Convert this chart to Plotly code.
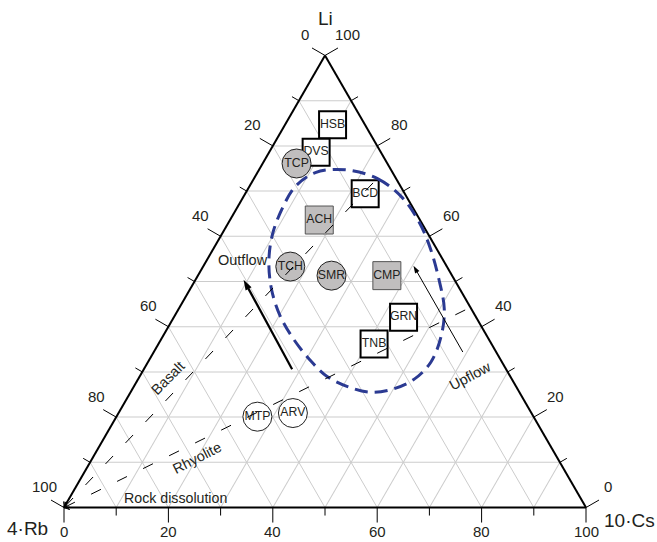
import plotly.graph_objects as go

# ---------------- data (percent of Li, 10·Cs, 4·Rb) ----------------
tick_vals = [0, 10, 20, 30, 40, 50, 60, 70, 80, 90, 100]
left_tick_text = ['100', '', '80', '', '60', '', '40', '', '20', '', '0']     # 4·Rb along left edge (at Li = tick)
bottom_tick_text = ['0', '', '20', '', '40', '', '60', '', '80', '', '100']   # 10·Cs along bottom edge (at Cs = tick)
right_tick_text = ['0', '', '20', '', '40', '', '60', '', '80', '', '100']    # Li along right edge (at Li = tick)

wsq_names = ['HSB', 'DVS', 'BCD', 'GRN', 'TNB']
wsq_li = [84.7, 78.6, 69.4, 42.1, 36.2]
wsq_cs = [9.1, 9.0, 23.0, 44.0, 41.3]
wsq_rb = [6.2, 12.4, 7.6, 13.9, 22.5]

gsq_names = ['ACH', 'CMP']
gsq_li = [63.6, 51.3]
gsq_cs = [17.1, 36.2]
gsq_rb = [19.3, 12.5]

gci_names = ['TCP', 'TCH', 'SMR']
gci_li = [76.1, 53.3, 51.3]
gci_cs = [6.5, 16.7, 25.6]
gci_rb = [17.4, 30.0, 23.1]

wci_names = ['MTP', 'ARV']
wci_li = [20.1, 20.9]
wci_cs = [27.0, 33.4]
wci_rb = [52.9, 45.7]

# dashed field outline (read around the curve)
field_li = [74.7, 72.7, 68.5, 63.2, 57.6, 50.6, 43.9, 37.9, 32.2, 28.4, 26.2, 25.5,
            26.8, 29.0, 32.4, 37.3, 42.4, 48.3, 54.5, 60.5, 66.5, 71.0, 74.1, 74.7]
field_cs = [16.7, 23.8, 30.6, 36.4, 41.3, 46.5, 50.9, 53.3, 54.2, 52.9, 49.9, 45.9,
            40.8, 35.9, 31.1, 25.3, 20.2, 15.6, 12.0, 9.7, 8.7, 8.8, 11.1, 16.7]
field_rb = [8.6, 3.5, 0.9, 0.4, 1.1, 2.9, 5.2, 8.8, 13.6, 18.7, 23.9, 28.6,
            32.4, 35.1, 36.5, 37.4, 37.4, 36.1, 33.5, 29.8, 24.8, 20.2, 14.8, 8.6]

# rock dissolution lines (from their far end towards the 4·Rb corner)
basalt_li = [71.8, 0]
basalt_cs = [23.3, 0]
basalt_rb = [4.9, 100]
rhyolite_li = [43.7, 0]
rhyolite_cs = [55.0, 0]
rhyolite_rb = [1.3, 100]

# process arrows (start, tip)
outflow_li = [30.6, 50.4]
outflow_cs = [28.4, 9.2]
outflow_rb = [41.0, 40.4]
upflow_li = [34.4, 53.5]
upflow_cs = [59.2, 40.2]
upflow_rb = [6.4, 6.3]

# ---------------- figure ----------------
FONT = 'Arial, Liberation Sans, sans-serif'
TXT = '#231f20'
GRAY = '#c0bebe'

W_PLOT, H_PLOT = 522, 453
TRI_W = min(W_PLOT, H_PLOT * 2 / 3 ** 0.5)
TRI_H = TRI_W * 3 ** 0.5 / 2
X0 = (W_PLOT - TRI_W) / 2 / W_PLOT
Y0 = (H_PLOT - TRI_H) / 2 / H_PLOT


def tern_paper(li, cs):
    """ternary (Li, Cs) -> paper coordinates of the ternary plot area"""
    return X0 + (cs + li / 2) / 100 * TRI_W / W_PLOT, Y0 + li / 100 * TRI_H / H_PLOT


fig = go.Figure()


def site_trace(names, li, cs, rb, symbol, fill, lcolor, lwidth, size):
    return go.Scatterternary(
        a=li, b=rb, c=cs, text=names, mode='markers+text',
        textposition='middle center',
        textfont=dict(family=FONT, size=12.3, color=TXT),
        marker=dict(symbol=symbol, size=size, color=fill,
                    line=dict(color=lcolor, width=lwidth)),
        cliponaxis=False, showlegend=False, hoverinfo='text')


fig.add_trace(site_trace(wsq_names, wsq_li, wsq_cs, wsq_rb, 'square', 'white', 'black', 2, 27))
fig.add_trace(site_trace(gsq_names, gsq_li, gsq_cs, gsq_rb, 'square', GRAY, '#555555', 1, 28))
fig.add_trace(site_trace(gci_names, gci_li, gci_cs, gci_rb, 'circle', GRAY, '#222222', 1, 29))
fig.add_trace(site_trace(wci_names, wci_li, wci_cs, wci_rb, 'circle', 'white', '#222222', 1, 29))

# field outline
fig.add_trace(go.Scatterternary(
    a=field_li, b=field_rb, c=field_cs, mode='lines',
    line=dict(color='#2b3a92', width=3, dash='13px,7px', shape='spline', smoothing=1),
    cliponaxis=False, showlegend=False, hoverinfo='skip'))

# basalt / rhyolite dissolution lines
for li, cs, rb in [(basalt_li, basalt_cs, basalt_rb), (rhyolite_li, rhyolite_cs, rhyolite_rb)]:
    fig.add_trace(go.Scatterternary(
        a=li, b=rb, c=cs, mode='lines+markers',
        line=dict(color='black', width=1, dash='11px,18px'),
        marker=dict(symbol='arrow-wide-open', size=6, angleref='previous',
                    color='black', line=dict(color='black', width=1)),
        cliponaxis=False, showlegend=False, hoverinfo='skip'))

# outflow / upflow arrows
fig.add_trace(go.Scatterternary(
    a=outflow_li, b=outflow_rb, c=outflow_cs, mode='lines+markers',
    line=dict(color='black', width=2.2),
    marker=dict(symbol='arrow', size=11, angleref='previous', color='black',
                line=dict(color='black', width=0)),
    cliponaxis=False, showlegend=False, hoverinfo='skip'))
fig.add_trace(go.Scatterternary(
    a=upflow_li, b=upflow_rb, c=upflow_cs, mode='lines+markers',
    line=dict(color='black', width=1),
    marker=dict(symbol='arrow', size=8, angleref='previous', color='black',
                line=dict(color='black', width=0)),
    cliponaxis=False, showlegend=False, hoverinfo='skip'))

# ---- perpendicular tick marks and tick labels anchored at the tick values ----
C30, S30 = 3 ** 0.5 / 2, 0.5
edges = [
    # (points on edge as (li, cs), outward unit direction (dx, dy up), label offset px (up positive), labels)
    ([(v, 0.0) for v in tick_vals], (-C30, S30), (-20, 21), left_tick_text),
    ([(0.0, v) for v in tick_vals], (0.0, -1.0), (0, -24), bottom_tick_text),
    ([(v, 100.0 - v) for v in tick_vals], (C30, S30), (22, 21), right_tick_text),
]
for pts, (ux, uy), (lx, ly), labs in edges:
    for (li, cs), lab in zip(pts, labs):
        px, py = tern_paper(li, cs)
        length = 15 if lab else 8
        fig.add_shape(type='line', xref='paper', yref='paper',
                      xsizemode='pixel', ysizemode='pixel', xanchor=px, yanchor=py,
                      x0=0, y0=0, x1=ux * length, y1=uy * length,
                      line=dict(color='black', width=1))
        if lab:
            fig.add_annotation(x=px, y=py, xref='paper', yref='paper', text=lab,
                               showarrow=False, xshift=lx, yshift=ly,
                               font=dict(family=FONT, size=15, color=TXT),
                               xanchor='center', yanchor='middle')

axis_common = dict(
    min=0, tickmode='array', tickvals=tick_vals,
    ticks='', showticklabels=False,
    showline=True, linecolor='black', linewidth=2,
    showgrid=True, gridcolor='#cccccc', gridwidth=1,
    title=dict(text=''), layer='below traces',
)

fig.update_layout(
    width=657, height=542,
    margin=dict(l=64, r=71, t=55, b=34),
    paper_bgcolor='white', plot_bgcolor='white',
    font=dict(family=FONT, color=TXT),
    ternary=dict(
        sum=100, bgcolor='white',
        aaxis=dict(axis_common),
        baxis=dict(axis_common),
        caxis=dict(axis_common),
    ),
)

labels = [
    ('Outflow', 54.8, 6.95, 0, 14.5),
    ('Basalt', 28.6, 5.6, -45, 14.5),
    ('Rhyolite', 10.9, 20.0, -27, 14.5),
    ('Upflow', 29.0, 63.3, -28, 14.5),
    ('Rock dissolution', 2.2, 20.2, 0, 14.2),
]
for text, li, cs, ang, fs in labels:
    x, y = tern_paper(li, cs)
    fig.add_annotation(x=x, y=y, xref='paper', yref='paper', text=text, showarrow=False,
                       textangle=ang, font=dict(family=FONT, size=fs, color=TXT),
                       xanchor='center', yanchor='middle')

# axis titles at the corners
for text, x, y in [('Li', 0.5, 1.081), ('4·Rb', -0.07, -0.045), ('10·Cs', 1.084, -0.028)]:
    fig.add_annotation(x=x, y=y, xref='paper', yref='paper', text=text, showarrow=False,
                       font=dict(family=FONT, size=19, color=TXT),
                       xanchor='center', yanchor='middle')

fig.write_html('out.html', config={'displayModeBar': False},
               post_script="document.body.style.margin='0px';")
